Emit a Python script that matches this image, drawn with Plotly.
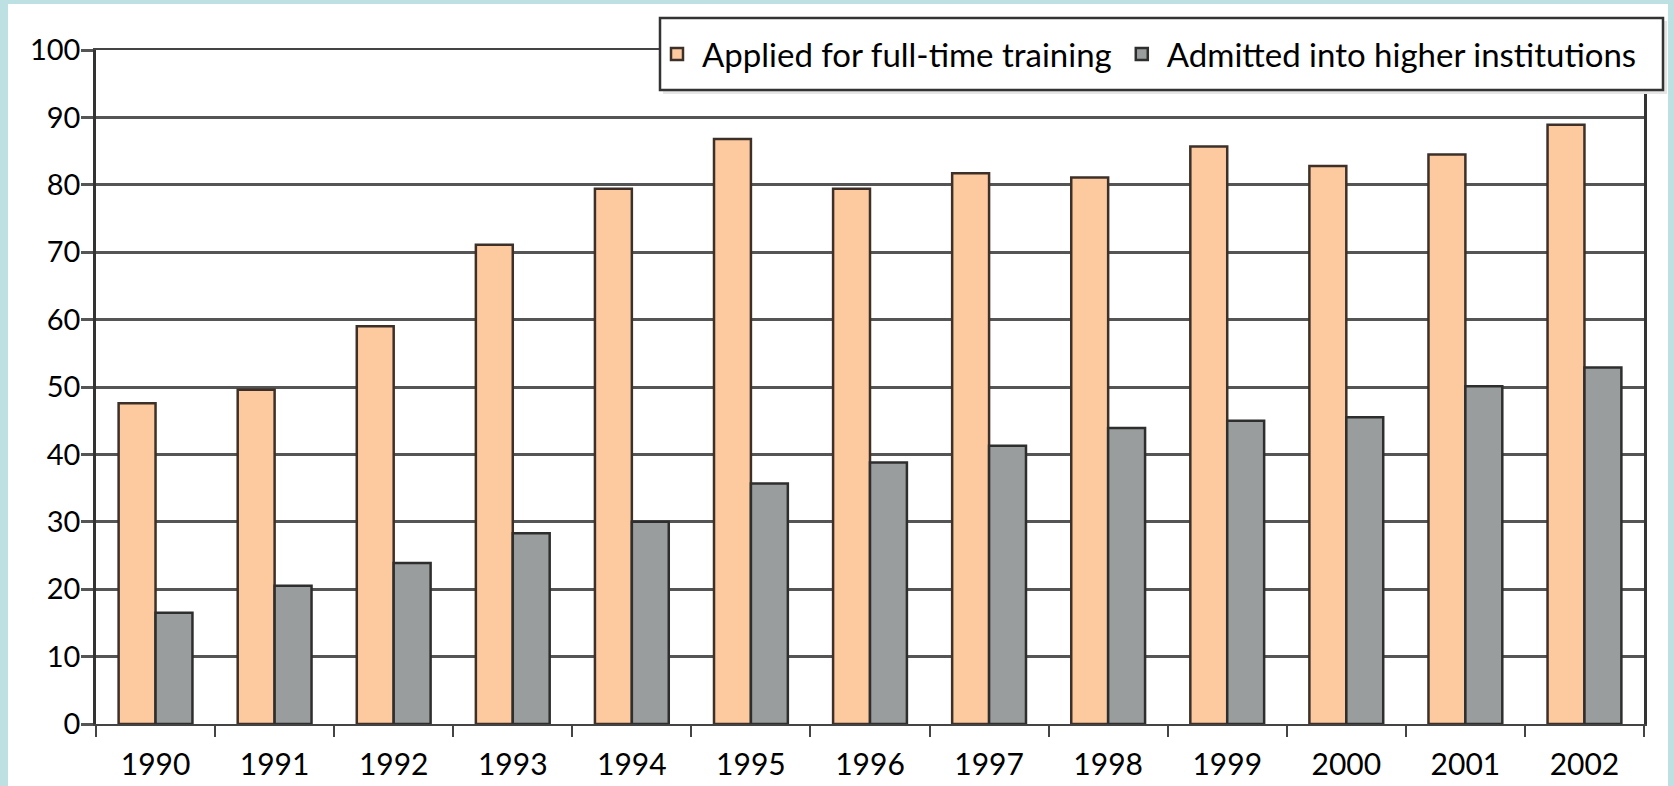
import plotly.graph_objects as go

years = ["1990", "1991", "1992", "1993", "1994", "1995", "1996",
         "1997", "1998", "1999", "2000", "2001", "2002"]
applied = [47.6, 49.6, 59.0, 71.1, 79.4, 86.8, 79.4, 81.7, 81.1, 85.7, 82.8, 84.5, 88.9]
admitted = [16.5, 20.5, 23.9, 28.3, 30.0, 35.7, 38.8, 41.3, 43.9, 45.0, 45.5, 50.1, 52.9]
series_names = ["Applied for full-time training", "Admitted into higher institutions"]
y_ticks = [0, 10, 20, 30, 40, 50, 60, 70, 80, 90, 100]

W, H = 1674, 786
ML, MR, MT, MB = 96, 30, 50, 62
PW, PH = W - ML - MR, H - MT - MB

def px_x(p):
    return (p - ML) / PW

def px_y(p):
    return 1 - (p - MT) / PH

FONT = "Lato"
BLUE = "#BDE0E3"

fig = go.Figure()
fig.add_trace(go.Bar(
    x=years, y=applied, name=series_names[0],
    marker=dict(color="#FDC99E", line=dict(color="#3d3029", width=2.5)),
))
fig.add_trace(go.Bar(
    x=years, y=admitted, name=series_names[1],
    marker=dict(color="#9A9D9D", line=dict(color="#2e2e2e", width=2.5)),
))

shapes = [
    # white inner page area (light-blue frame around it)
    dict(type="rect", xref="paper", yref="paper", layer="below",
         x0=px_x(8), x1=px_x(1668), y0=-0.2, y1=px_y(4),
         fillcolor="white", line=dict(width=0)),
    # legend box shadow
    dict(type="rect", xref="paper", yref="paper", layer="above",
         x0=px_x(663), x1=px_x(1667), y0=px_y(94), y1=px_y(21),
         fillcolor="#e6e6e6", line=dict(width=0)),
    # legend box
    dict(type="rect", xref="paper", yref="paper", layer="above",
         x0=px_x(660), x1=px_x(1663), y0=px_y(90), y1=px_y(18),
         fillcolor="white", line=dict(color="#333333", width=2.5)),
]

fig.update_layout(
    width=W, height=H,
    margin=dict(l=ML, r=MR, t=MT, b=MB, pad=0),
    paper_bgcolor=BLUE,
    plot_bgcolor="white",
    barmode="group",
    bargap=0.38,
    bargroupgap=0.0,
    font=dict(family=FONT, color="black", size=30),
    showlegend=True,
    legend=dict(
        orientation="h",
        x=px_x(652), xanchor="left",
        y=px_y(54), yanchor="middle",
        bgcolor="rgba(0,0,0,0)",
        borderwidth=0,
        font=dict(family=FONT, size=33, color="black"),
        itemwidth=40,
    ),
    shapes=shapes,
)

fig.update_xaxes(
    type="category",
    automargin=False,
    showgrid=False,
    showline=True, linecolor="#444444", linewidth=2, mirror=True,
    ticks="outside", tickson="boundaries", ticklen=11, tickwidth=2, tickcolor="#444444",
    tickfont=dict(family=FONT, size=30, color="black"),
    ticklabelstandoff=13,
)
fig.update_yaxes(
    range=[0, 100],
    automargin=False,
    tickvals=y_ticks,
    showgrid=True, gridcolor="#555555", gridwidth=2.5,
    zeroline=False,
    showline=True, linecolor="#333333", linewidth=2.5, mirror=True,
    ticks="outside", ticklen=12, tickwidth=2.5, tickcolor="#555555",
    tickfont=dict(family=FONT, size=29, color="black"),
    ticklabelstandoff=-5,
)

fig.write_html(
    "out.html",
    config={"displayModeBar": False},
    post_script="document.body.style.margin='0';document.body.style.background='" + BLUE + "';",
)
